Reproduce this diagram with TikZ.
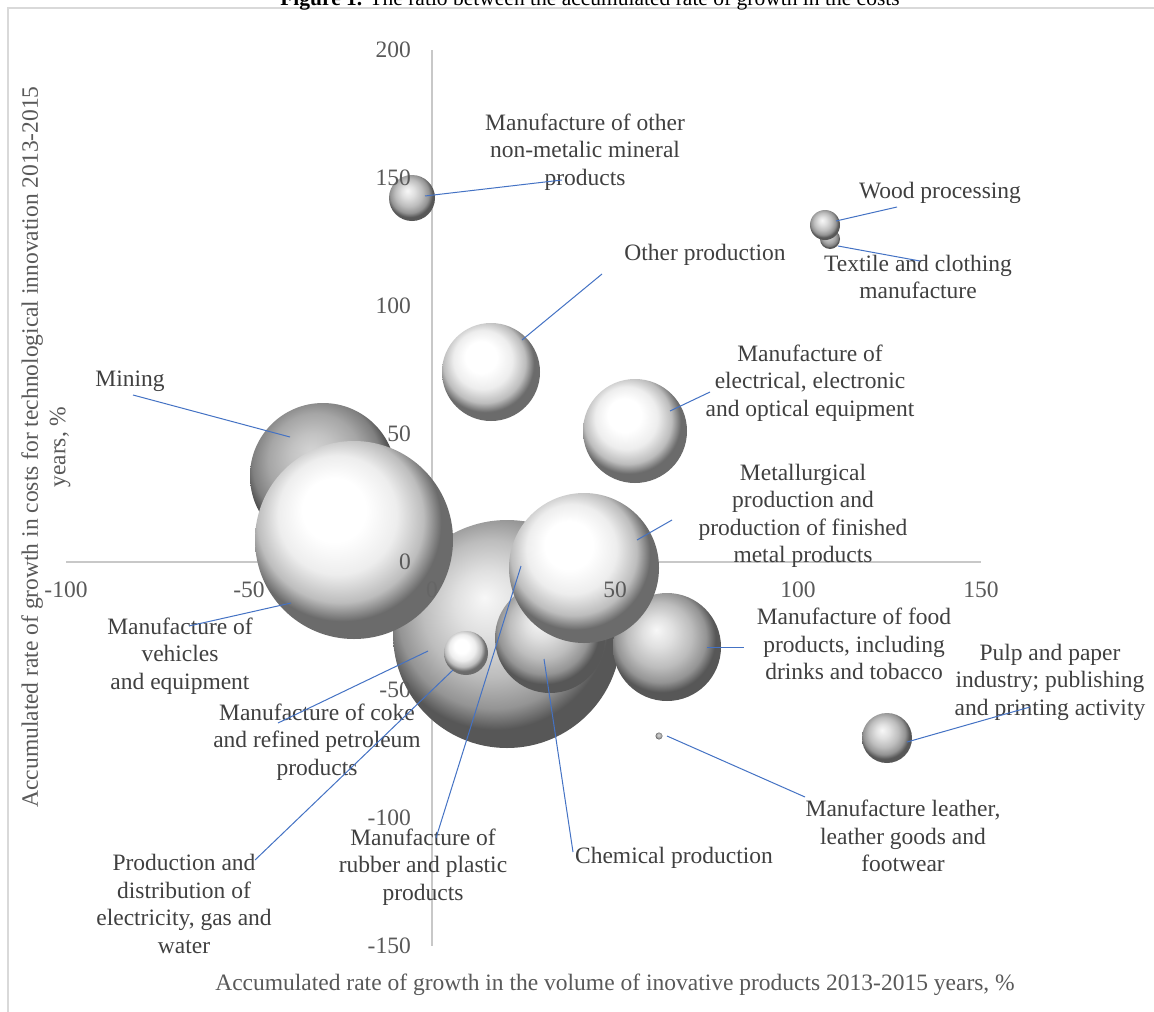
\documentclass[tikz,border=0pt]{standalone}
\usepackage{fontspec}
\setmainfont{Liberation Serif}
\definecolor{leadcol}{HTML}{4472C4}
\definecolor{axiscol}{HTML}{C8C8C8}
\definecolor{tickcol}{HTML}{595959}
\definecolor{labcol}{HTML}{404040}
\definecolor{framecol}{HTML}{D9D9D9}
\pgfdeclareradialshading{sphl}{\pgfpoint{-6bp}{9bp}}{color(0bp)=(white); color(8bp)=(white); color(15bp)=(black!7); color(21bp)=(black!26); color(25bp)=(black!58); color(50bp)=(black!58)}
\pgfdeclareradialshading{sphm}{\pgfpoint{-5bp}{8bp}}{color(0bp)=(black!3); color(7bp)=(black!12); color(15bp)=(black!26); color(21bp)=(black!42); color(25bp)=(black!66); color(50bp)=(black!66)}
\pgfdeclareradialshading{sphd}{\pgfpoint{-4bp}{8bp}}{color(0bp)=(black!16); color(8bp)=(black!24); color(16bp)=(black!35); color(22bp)=(black!50); color(25bp)=(black!68); color(50bp)=(black!68)}
\begin{document}
\begin{tikzpicture}[x=1pt,y=-1pt,
  bub/.style={circle, inner sep=0pt, minimum size=#1},
  lite/.style={shading=sphl},
  mid/.style={shading=sphm},
  dark/.style={shading=sphd},
  leader/.style={draw=leadcol, line width=1pt},
  axisline/.style={draw=axiscol, line width=1.4pt},
  ticklab/.style={text=tickcol, font=\fontsize{23.5}{27.5}\selectfont, inner sep=0pt},
  datalab/.style={text=labcol, font=\fontsize{23.5}{27.5}\selectfont, align=center, inner sep=0pt},
  axtitle/.style={text=tickcol, font=\fontsize{23.5}{27.5}\selectfont, align=center, inner sep=0pt}]
\useasboundingbox (0,0) rectangle (1154,1012);
\fill[white] (0,0) rectangle (1154,1012);
% frame and title
\draw[framecol, line width=1.2pt] (8,1012) -- (8,8) -- (1154,8);
\node[anchor=base, inner sep=0pt, font=\fontsize{21.5}{24}\selectfont] (title) at (590,5) {\textbf{Figure 1.} The ratio between the accumulated rate of growth in the costs};
% axes
\draw[axisline] (66,562) -- (981,562);
\draw[axisline] (432,50) -- (432,946);
% bubbles
\node[bub=228pt, mid] (coke) at (507,634) {};
\node[bub=146pt, dark] (mining) at (323,476) {};
\node[bub=198pt, lite] (vehicles) at (354,540) {};
\node[bub=110pt, mid] (chem) at (550,638) {};
\node[bub=108pt, mid] (food) at (667,647) {};
\node[bub=44pt, lite] (elec) at (466,653) {};
\node[bub=150pt, lite] (metal) at (584,568) {};
\node[bub=98pt, lite] (other) at (491,372) {};
\node[bub=104pt, lite] (optic) at (635,431) {};
\node[bub=46pt, mid] (nonmet) at (412,198) {};
\node[bub=20pt, dark] (textile) at (830,239) {};
\node[bub=30pt, mid] (wood) at (825,225) {};
\node[bub=50pt, mid] (pulp) at (887,738) {};
\node[bub=7pt, dark] (leather) at (659,736) {};
% tick labels
\node[ticklab, anchor=east] (y200) at (411,50) {200};
\node[ticklab, anchor=east] (y150) at (411,178) {150};
\node[ticklab, anchor=east] (y100) at (411,306) {100};
\node[ticklab, anchor=east] (y50) at (411,434) {50};
\node[ticklab, anchor=east] (y0) at (411,562) {0};
\node[ticklab, anchor=east] (ym50) at (411,690) {-50};
\node[ticklab, anchor=east] (ym100) at (411,818) {-100};
\node[ticklab, anchor=east] (ym150) at (411,946) {-150};
\node[ticklab] (xm100) at (66,590) {-100};
\node[ticklab] (xm50) at (249,590) {-50};
\node[ticklab, opacity=0.3] (x0) at (432,590) {0};
\node[ticklab] (x50) at (615,590) {50};
\node[ticklab] (x100) at (798,590) {100};
\node[ticklab] (x150) at (981,590) {150};
% axis titles
\node[axtitle, rotate=90] (ytitle) at (46,447) {Accumulated rate of growth in costs for technological innovation 2013-2015\\years, \%};
\node[axtitle] (xtitle) at (615,985) {Accumulated rate of growth in the volume of inovative products 2013-2015 years, \%};
% data labels
\node[datalab] (lnonmet) at (585,152) {Manufacture of other\\non-metalic mineral\\products};
\node[datalab] (lwood) at (940,193) {Wood processing};
\node[datalab] (ltextile) at (918,277) {Textile and clothing\\manufacture};
\node[datalab] (lother) at (705,255) {Other production};
\node[datalab] (loptic) at (810,383) {Manufacture of\\electrical, electronic\\and optical equipment};
\node[datalab] (lmining) at (130,381) {Mining};
\node[datalab] (lmetal) at (803,516) {Metallurgical\\production and\\production of finished\\metal products};
\node[datalab] (lvehicles) at (180,656) {Manufacture of\\vehicles\\and equipment};
\node[datalab] (lfood) at (854,644) {Manufacture of food\\products, including\\drinks and tobacco};
\node[datalab] (lpulp) at (1050,682) {Pulp and paper\\industry; publishing\\and printing activity};
\node[datalab] (lcoke) at (317,742) {Manufacture of coke\\and refined petroleum\\products};
\node[datalab] (lleather) at (903,836) {Manufacture leather,\\leather goods and\\footwear};
\node[datalab] (lchem) at (674,858) {Chemical production};
\node[datalab] (lrubber) at (423,867) {Manufacture of\\rubber and plastic\\products};
\node[datalab] (lelec) at (184,904) {Production and\\distribution of\\electricity, gas and\\water};
% leader end points
\coordinate (a1) at (425,196); \coordinate (b1) at (562,180);
\coordinate (a2) at (836,221); \coordinate (b2) at (897,207);
\coordinate (a3) at (838,246); \coordinate (b3) at (920,261);
\coordinate (a4) at (522,340); \coordinate (b4) at (602,274);
\coordinate (a5) at (670,411); \coordinate (b5) at (710,392);
\coordinate (a6) at (290,437); \coordinate (b6) at (133,395);
\coordinate (a7) at (637,540); \coordinate (b7) at (672,520);
\coordinate (a8) at (291,603); \coordinate (b8) at (189,626);
\coordinate (a9) at (707,647); \coordinate (b9) at (744,647);
\coordinate (a10) at (907,742); \coordinate (b10) at (1030,707);
\coordinate (a11) at (428,651); \coordinate (b11) at (278,723);
\coordinate (a12) at (667,736); \coordinate (b12) at (805,797);
\coordinate (a13) at (544,659); \coordinate (b13) at (573,852);
\coordinate (a14) at (521,566); \coordinate (b14) at (436,838);
\coordinate (a15) at (453,670); \coordinate (b15) at (255,860);
\foreach \i in {1,...,15} {\draw[leader] (a\i) -- (b\i);}
\end{tikzpicture}
\end{document}
